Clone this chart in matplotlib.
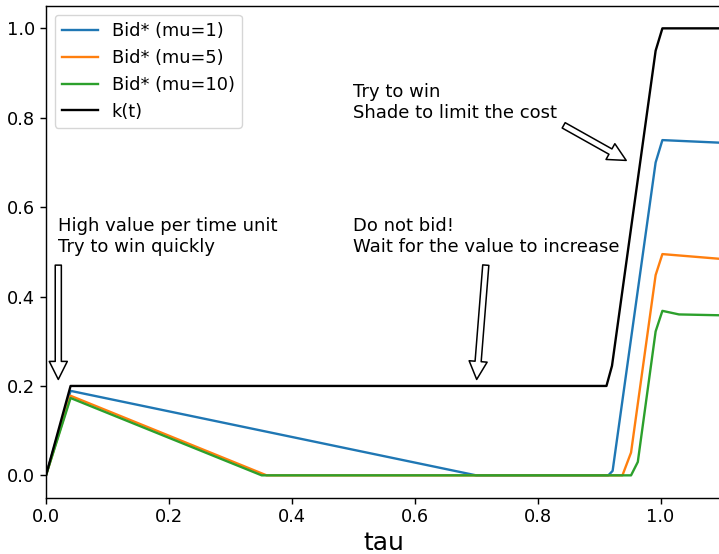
import matplotlib
matplotlib.use("Agg")
import matplotlib.pyplot as plt

# k(t)
k_t = [0.0, 0.04, 0.912, 0.921, 0.992, 1.003, 1.1]
k_v = [0.0, 0.2, 0.2, 0.245, 0.95, 1.0, 1.0]

# Bid* (mu=1)
b1_t = [0.0, 0.04, 0.70, 0.915, 0.922, 0.992, 1.003, 1.1]
b1_v = [0.0, 0.189, 0.0, 0.0, 0.01, 0.70, 0.750, 0.744]

# Bid* (mu=5)
b5_t = [0.0, 0.04, 0.359, 0.938, 0.952, 0.992, 1.003, 1.1]
b5_v = [0.0, 0.178, 0.0, 0.0, 0.051, 0.448, 0.495, 0.484]

# Bid* (mu=10)
b10_t = [0.0, 0.04, 0.351, 0.952, 0.963, 0.992, 1.003, 1.03, 1.1]
b10_v = [0.0, 0.173, 0.0, 0.0, 0.030, 0.322, 0.368, 0.360, 0.358]

S = 1.28
plt.rcParams['font.size'] = 10 * S
plt.rcParams['lines.linewidth'] = 1.7
for ax_ in ('xtick', 'ytick'):
    plt.rcParams[f'{ax_}.major.size'] = 3.5 * S
    plt.rcParams[f'{ax_}.major.width'] = 0.8 * S
    plt.rcParams[f'{ax_}.major.pad'] = 2.5 * S
plt.rcParams['axes.linewidth'] = 0.8 * S

fig = plt.figure(figsize=(7.19, 5.54), dpi=100)
W, H = 719, 554
ax = fig.add_axes([46 / W, (H - 497.7) / H, (722 - 46) / W, (497.7 - 6) / H])

ax.plot(b1_t, b1_v, color='#1f77b4', label='Bid* (mu=1)')
ax.plot(b5_t, b5_v, color='#ff7f0e', label='Bid* (mu=5)')
ax.plot(b10_t, b10_v, color='#2ca02c', label='Bid* (mu=10)')
ax.plot(k_t, k_v, color='black', label='k(t)')

ax.set_xlim(0, 1.1)
ax.set_ylim(-0.05, 1.05)
ax.set_xticks([0.0, 0.2, 0.4, 0.6, 0.8, 1.0])
ax.set_yticks([0.0, 0.2, 0.4, 0.6, 0.8, 1.0])
ax.set_xlabel('tau', fontsize=18, labelpad=3)

ap = dict(facecolor='white', edgecolor='black', shrink=0.05, width=4.4, headwidth=13, headlength=13, linewidth=1.1)
ax.annotate('High value per time unit\nTry to win quickly', xy=(0.02, 0.2), xytext=(0.02, 0.5),
            fontsize=13, arrowprops=ap)
ax.annotate('Do not bid!\nWait for the value to increase', xy=(0.7, 0.2), xytext=(0.5, 0.5),
            fontsize=13, arrowprops=ap)
ax.annotate('Try to win\nShade to limit the cost', xy=(0.95, 0.7), xytext=(0.5, 0.8),
            fontsize=13, arrowprops=ap)

ax.legend(loc='upper left', fontsize=10 * S)

fig.savefig('out.png', dpi=100)
